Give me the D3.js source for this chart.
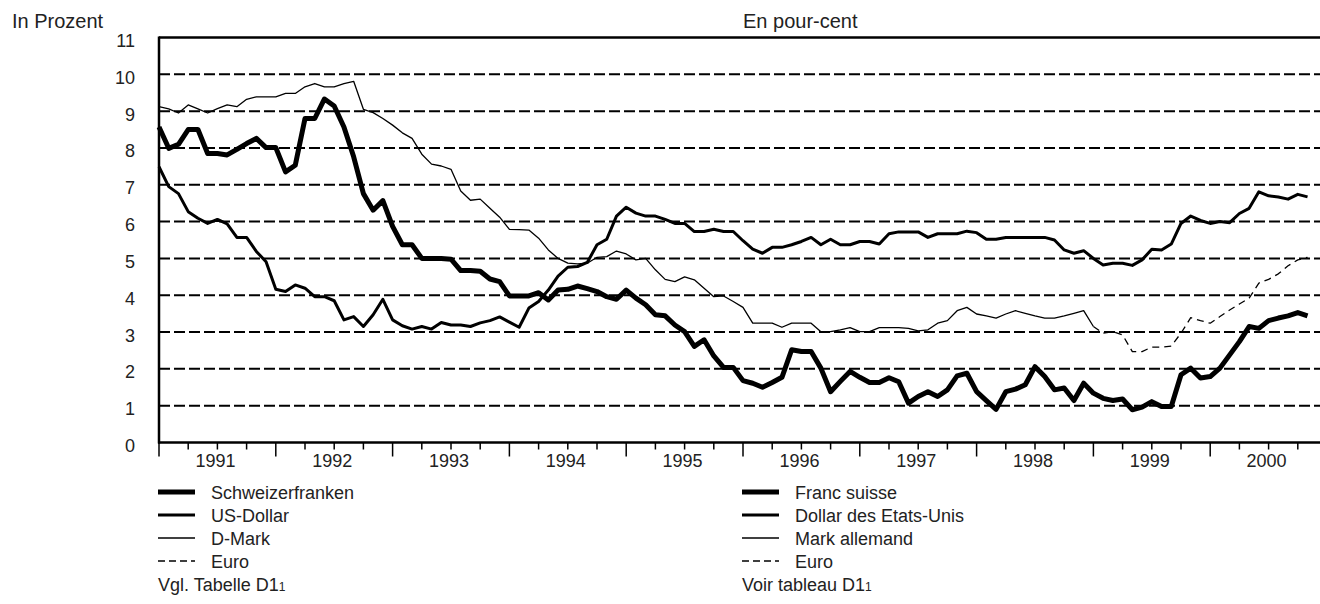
<!DOCTYPE html>
<html>
<head>
<meta charset="utf-8">
<script src="https://cdn.jsdelivr.net/npm/d3@7/dist/d3.min.js"></script>
<style>
  html, body { margin: 0; padding: 0; background: #fff; }
  svg { display: block; font-family: "Liberation Sans", Arial, sans-serif; }
</style>
</head>
<body>
<svg id="chart" width="1320" height="604"></svg>
<script>
// ---------- data (monthly, Jan 1991 = index 0) ----------
const years = ["1991","1992","1993","1994","1995","1996","1997","1998","1999","2000"];
const yTicks = [0,1,2,3,4,5,6,7,8,9,10,11];

const chf = [
  8.57,7.99,8.10,8.50,8.50,7.85,7.85,7.81,7.96,8.12,
  8.26,8.01,8.01,7.35,7.53,8.80,8.80,9.33,9.14,8.57,
  7.76,6.76,6.31,6.57,5.87,5.37,5.37,5.00,5.00,5.00,
  4.98,4.67,4.67,4.65,4.44,4.37,3.98,3.98,3.98,4.07,
  3.87,4.14,4.16,4.25,4.18,4.10,3.96,3.89,4.14,3.92,
  3.74,3.47,3.44,3.19,3.01,2.61,2.79,2.35,2.04,2.04,
  1.68,1.61,1.50,1.63,1.77,2.52,2.47,2.47,2.02,1.38,
  1.66,1.93,1.77,1.63,1.63,1.76,1.65,1.07,1.25,1.38,
  1.25,1.43,1.81,1.88,1.38,1.14,0.90,1.38,1.45,1.57,
  2.06,1.79,1.43,1.48,1.14,1.61,1.34,1.20,1.14,1.18,
  0.89,0.96,1.11,0.98,0.98,1.84,2.02,1.75,1.79,2.02,
  2.38,2.74,3.15,3.10,3.31,3.38,3.44,3.53,3.44
];
const usd = [
  7.49,6.95,6.76,6.27,6.09,5.95,6.06,5.94,5.57,5.57,
  5.19,4.91,4.16,4.10,4.28,4.19,3.96,3.96,3.85,3.33,
  3.42,3.15,3.47,3.89,3.33,3.17,3.08,3.15,3.08,3.26,
  3.19,3.19,3.15,3.25,3.31,3.41,3.27,3.13,3.65,3.83,
  4.14,4.52,4.76,4.78,4.89,5.37,5.52,6.15,6.39,6.23,
  6.15,6.15,6.06,5.95,5.95,5.73,5.73,5.79,5.73,5.73,
  5.48,5.25,5.14,5.30,5.30,5.37,5.46,5.57,5.37,5.52,
  5.37,5.37,5.46,5.46,5.39,5.67,5.72,5.72,5.72,5.57,
  5.67,5.67,5.67,5.74,5.70,5.52,5.52,5.57,5.57,5.57,
  5.57,5.57,5.50,5.23,5.14,5.21,5.00,4.82,4.87,4.87,
  4.81,4.96,5.25,5.23,5.39,5.95,6.15,6.03,5.95,6.00,
  5.97,6.22,6.36,6.81,6.70,6.67,6.61,6.74,6.67
];
const dem = [
  9.12,9.06,8.95,9.17,9.06,8.95,9.07,9.17,9.12,9.32,
  9.39,9.39,9.39,9.48,9.48,9.66,9.75,9.66,9.66,9.75,
  9.81,9.05,8.96,8.80,8.62,8.41,8.26,7.83,7.56,7.51,
  7.42,6.83,6.58,6.61,6.36,6.12,5.79,5.78,5.77,5.55,
  5.23,5.00,4.87,4.85,4.87,5.03,5.05,5.20,5.12,4.96,
  5.00,4.69,4.43,4.37,4.50,4.42,4.19,3.96,3.98,3.83,
  3.67,3.24,3.24,3.24,3.13,3.24,3.24,3.24,3.01,3.01,
  3.06,3.12,3.01,3.01,3.12,3.12,3.12,3.10,3.03,3.06,
  3.24,3.31,3.58,3.67,3.49,3.44,3.38,3.49,3.58,3.51,
  3.44,3.38,3.38,3.44,3.51,3.58,3.15
];
const euroStart = 96;
const eur = [
  3.15,2.97,3.01,2.92,2.47,2.47,2.59,2.59,2.62,2.97,
  3.39,3.31,3.24,3.42,3.60,3.76,3.92,4.33,4.43,4.58,
  4.80,4.96,5.03
];

const legendDE = ["Schweizerfranken","US-Dollar","D-Mark","Euro"];
const legendFR = ["Franc suisse","Dollar des Etats-Unis","Mark allemand","Euro"];
const noteDE = "Vgl. Tabelle D1";
const noteFR = "Voir tableau D1";
const noteSup = "1";
const unitDE = "In Prozent";
const unitFR = "En pour-cent";

// ---------- layout ----------
const svg = d3.select("#chart");
const plotLeft = 159, plotTop = 37.5, plotBottom = 442.5;
const nYears = years.length;
const x = d3.scaleLinear().domain([0, nYears * 12]).range([plotLeft, plotLeft + 1168]);
const y = d3.scaleLinear().domain([0, 11]).range([plotBottom, plotTop]);
const textColor = "#222";

// gridlines
svg.append("g").selectAll("line").data(yTicks.filter(v => v > 0 && v < 11)).join("line")
  .attr("x1", x(0)).attr("x2", x(120))
  .attr("y1", d => y(d)).attr("y2", d => y(d))
  .attr("stroke", "#000").attr("stroke-width", 2).attr("stroke-dasharray", "11,4");

// top frame line
svg.append("line").attr("x1", x(0)).attr("x2", x(120)).attr("y1", y(11)).attr("y2", y(11))
  .attr("stroke", "#000").attr("stroke-width", 2.5);

// y tick labels
svg.append("g").selectAll("text").data(yTicks).join("text")
  .attr("x", 135).attr("y", d => y(d) + 9.5)
  .attr("text-anchor", "end").attr("font-size", 18).attr("fill", textColor)
  .text(d => d);

// x ticks
const quarterTicks = d3.range(0, nYears * 12 + 1, 3);
svg.append("g").selectAll("line").data(quarterTicks).join("line")
  .attr("x1", d => x(d)).attr("x2", d => x(d))
  .attr("y1", plotBottom).attr("y2", d => plotBottom + (d % 12 === 0 ? 14 : 7))
  .attr("stroke", "#000").attr("stroke-width", 1.5);

// year labels
svg.append("g").selectAll("text").data(years).join("text")
  .attr("x", (d, i) => x(i * 12 + 6) - 2).attr("y", 467)
  .attr("text-anchor", "middle").attr("font-size", 18).attr("fill", textColor)
  .text(d => d);

// axes lines
svg.append("line").attr("x1", x(0)).attr("x2", x(0)).attr("y1", plotTop - 1).attr("y2", plotBottom + 1)
  .attr("stroke", "#000").attr("stroke-width", 2.5);
svg.append("line").attr("x1", x(0) - 1).attr("x2", x(120)).attr("y1", plotBottom).attr("y2", plotBottom)
  .attr("stroke", "#000").attr("stroke-width", 2.5);

// series
const line = d3.line().x(d => x(d.i)).y(d => y(d.v));
const toPts = (arr, start) => arr.map((v, k) => ({ i: start + k, v }));

const series = [
  { pts: toPts(dem, 0), w: 1.3, dash: null },
  { pts: toPts(eur, euroStart), w: 1.3, dash: "7,5" },
  { pts: toPts(usd, 0), w: 3, dash: null },
  { pts: toPts(chf, 0), w: 5, dash: null }
];
series.forEach(s => {
  svg.append("path").attr("d", line(s.pts))
    .attr("fill", "none").attr("stroke", "#000").attr("stroke-width", s.w)
    .attr("stroke-linejoin", "round")
    .attr("stroke-dasharray", s.dash);
});

// unit labels
svg.append("text").attr("x", 12).attr("y", 28).attr("font-size", 20).attr("fill", textColor).text(unitDE);
svg.append("text").attr("x", 743).attr("y", 28).attr("font-size", 20).attr("fill", textColor).text(unitFR);

// legends
const legStyles = [{ w: 5, dash: null }, { w: 3, dash: null }, { w: 1.3, dash: null }, { w: 1.3, dash: "7,4" }];
const rowsY = [492, 515, 538, 561];
function legend(labels, lx, tx, note) {
  const g = svg.append("g");
  labels.forEach((lab, k) => {
    g.append("line").attr("x1", lx).attr("x2", lx + 37).attr("y1", rowsY[k]).attr("y2", rowsY[k])
      .attr("stroke", "#000").attr("stroke-width", legStyles[k].w)
      .attr("stroke-dasharray", legStyles[k].dash);
    g.append("text").attr("x", tx).attr("y", rowsY[k] + 6.5).attr("font-size", 18)
      .attr("fill", textColor).text(lab);
  });
  const t = g.append("text").attr("x", lx).attr("y", 590.5).attr("font-size", 18).attr("fill", textColor);
  t.append("tspan").text(note);
  t.append("tspan").attr("font-size", 12).text(noteSup);
}
legend(legendDE, 158, 211, noteDE);
legend(legendFR, 742, 795, noteFR);
</script>
</body>
</html>
